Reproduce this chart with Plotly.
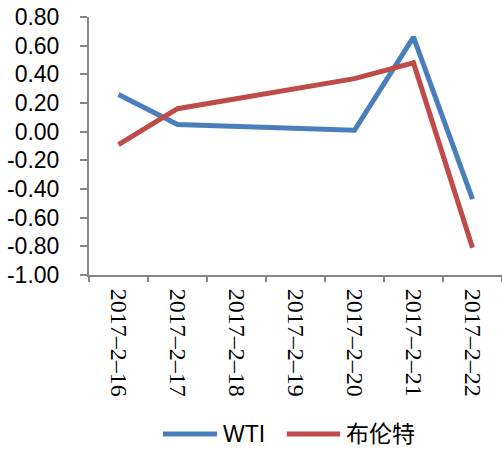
import plotly.graph_objects as go

# Daily change, 2017-02-16 .. 2017-02-22 (weekend days have no quotes)
dates = ["2017-2-16", "2017-2-17", "2017-2-18", "2017-2-19",
         "2017-2-20", "2017-2-21", "2017-2-22"]
date_labels = ["2017–2–16", "2017–2–17", "2017–2–18", "2017–2–19",
               "2017–2–20", "2017–2–21", "2017–2–22"]
wti = [0.26, 0.05, None, None, 0.01, 0.66, -0.47]
brent = [-0.09, 0.16, None, None, 0.37, 0.48, -0.81]
y_ticks = [0.8, 0.6, 0.4, 0.2, 0.0, -0.2, -0.4, -0.6, -0.8, -1.0]
y_tick_text = ["0.80", "0.60", "0.40", "0.20", "0.00",
               "-0.20", "-0.40", "-0.60", "-0.80", "-1.00"]

BLUE = "#4A7EBB"
RED = "#BE4B48"
AXIS = "#868686"

fig = go.Figure()
fig.add_trace(go.Scatter(x=dates, y=wti, mode="lines", name="WTI",
                         connectgaps=True,
                         line=dict(color=BLUE, width=5)))
fig.add_trace(go.Scatter(x=dates, y=brent, mode="lines", name="布伦特",
                         connectgaps=True,
                         line=dict(color=RED, width=5)))

fig.update_layout(
    width=502, height=451,
    margin=dict(l=89, r=0, t=17, b=176),
    paper_bgcolor="white", plot_bgcolor="white",
    showlegend=False,
    font=dict(family="Liberation Sans, Arial, sans-serif", color="black"),
    xaxis=dict(tickfont=dict(family="Liberation Serif", size=24, color="black")),
)
fig.update_xaxes(
    type="category", categoryorder="array", categoryarray=dates,
    tickvals=dates, ticktext=date_labels,
    range=[-0.5, 6.5],
    tickson="boundaries", ticks="outside", ticklen=5, tickwidth=2,
    tickcolor=AXIS, showline=True, linecolor=AXIS, linewidth=2,
    showgrid=False, zeroline=False, tickangle=90, ticklabelstandoff=7,
)
fig.update_yaxes(
    range=[-1.0, 0.8], tickvals=y_ticks, ticktext=y_tick_text,
    ticks="outside", ticklen=7, tickwidth=2, tickcolor=AXIS,
    showline=True, linecolor=AXIS, linewidth=2,
    showgrid=False, zeroline=False, ticklabelstandoff=16,
    tickfont=dict(size=23),
)

# Legend drawn below the axis: line swatch + label for each series
legend_items = [("WTI", BLUE, 0.179, 0.310), ("布伦特", RED, 0.479, 0.608)]
for label, color, x0, x1 in legend_items:
    fig.add_shape(type="line", xref="paper", yref="paper",
                  x0=x0, x1=x1, y0=-0.616, y1=-0.616,
                  line=dict(color=color, width=5))
    fig.add_annotation(xref="paper", yref="paper", x=x1 + 0.010, y=-0.616,
                       text=label, showarrow=False, xanchor="left",
                       yanchor="middle",
                       font=dict(size=23,
                                 family="Liberation Sans, Noto Sans CJK SC, sans-serif"))

fig.write_html("out.html")
